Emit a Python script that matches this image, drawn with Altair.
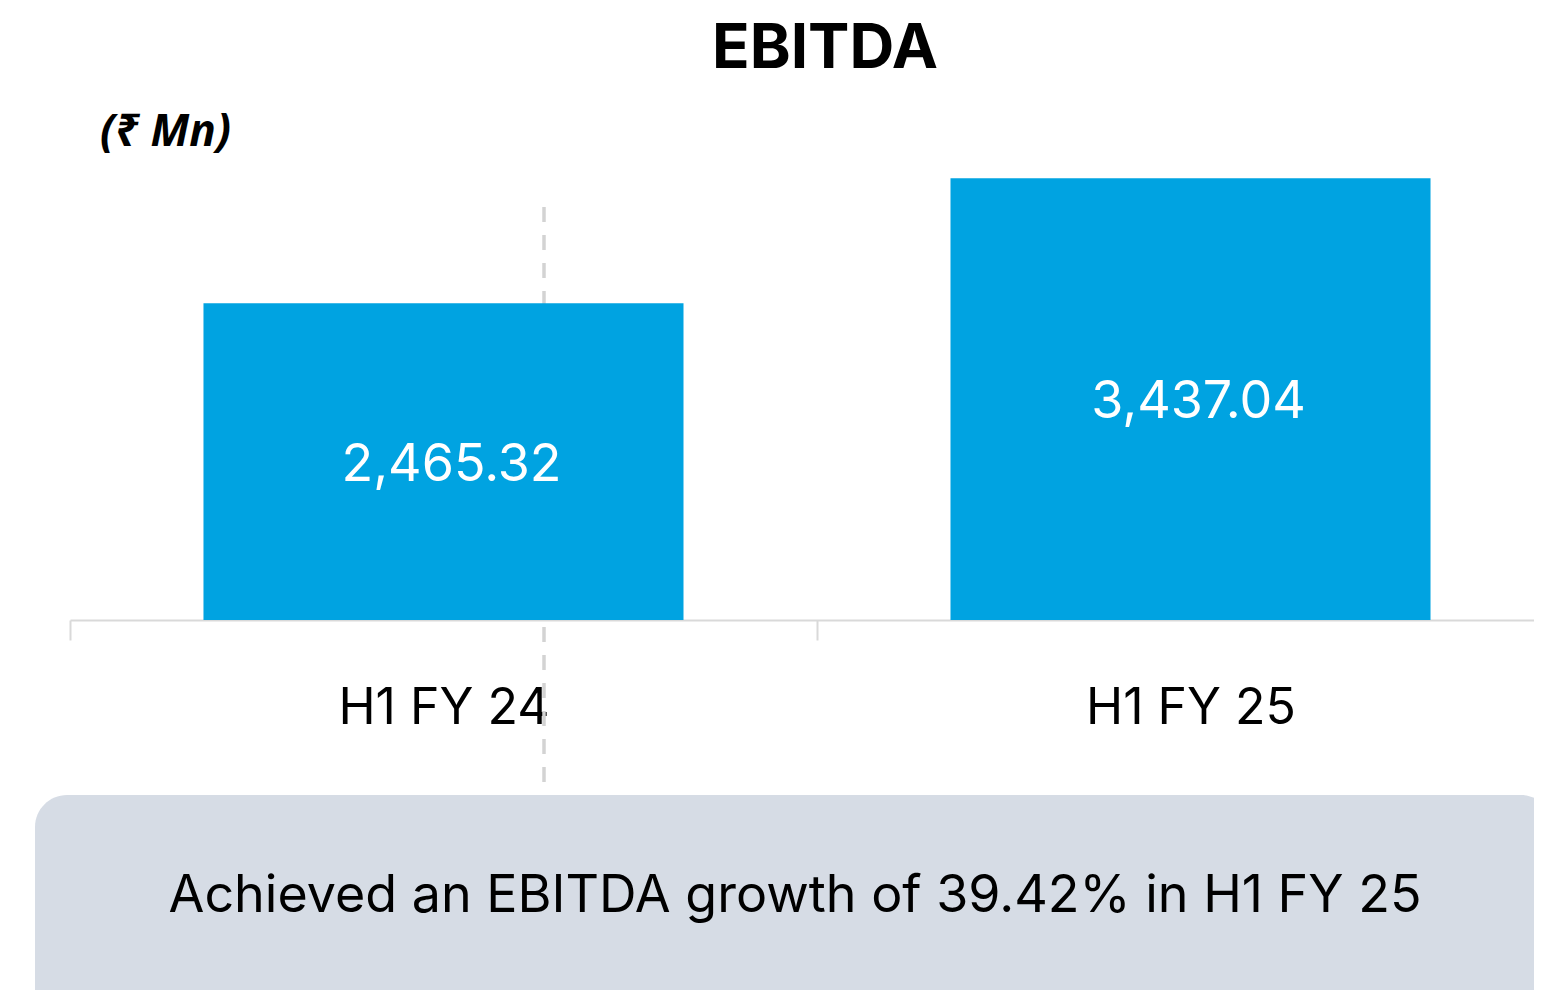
import altair as alt
import pandas as pd

periods = ["H1 FY 24", "H1 FY 25"]
ebitda = [2465.32, 3437.04]
title_text = "EBITDA"
unit_text = "(₹ Mn)"
note_text = "Achieved an EBITDA growth of 39.42% in H1 FY 25"

df = pd.DataFrame({"period": periods, "ebitda": ebitda})

FONT = "Inter"
BAR = "#00A3E1"

x_enc = alt.X(
    "period:N",
    sort=periods,
    title=None,
    scale=alt.Scale(paddingInner=0.3574, paddingOuter=0.1586, align=0.5633),
    axis=alt.Axis(
        labelAngle=0,
        labelFontSize=50,
        labelFont=FONT,
        labelColor="#000000",
        labelBaseline="alphabetic",
        labelPadding=83,
        labelLimit=0,
        labelOffset=373.5,
        domainColor="#d9d9d9",
        domainWidth=2,
        tickColor="#d9d9d9",
        tickWidth=2,
        tickSize=20,
        tickOffset=-373.5,
    ),
)
y_scale = alt.Scale(domain=[0, 4000])

base = alt.Chart(df)

dash = base.mark_rule(color="#d3d3d3", strokeWidth=3, strokeDash=[15, 13]).encode(
    x=alt.value(474), y=alt.value(101), y2=alt.value(679)
)

bars = base.mark_bar(color=BAR).encode(
    x=x_enc,
    y=alt.Y("ebitda:Q", scale=y_scale, axis=None),
)

labels = base.transform_calculate(mid="datum.ebitda / 2").mark_text(
    color="white", fontSize=52, font=FONT, baseline="middle", dx=8, dy=3
).encode(
    x=alt.X("period:N", sort=periods),
    y=alt.Y("mid:Q", scale=y_scale),
    text=alt.Text("ebitda:Q", format=",.2f"),
)

one = "datum.period == 'H1 FY 24'"

title = base.transform_filter(one).mark_text(
    fontSize=62, fontWeight="bold", font=FONT, color="#000000",
    align="center", baseline="alphabetic", text=title_text
).encode(x=alt.value(755), y=alt.value(-38))

unit = base.transform_filter(one).mark_text(
    fontSize=44, fontWeight="bold", fontStyle="italic", font="Noto Sans",
    color="#000000", align="left", baseline="alphabetic", text=unit_text
).encode(x=alt.value(30), y=alt.value(40))

box = base.transform_filter(one).mark_rect(
    color="#d6dce5", cornerRadius=32
).encode(x=alt.value(-35), x2=alt.value(1483), y=alt.value(689), y2=alt.value(950))

note = base.transform_filter(one).mark_text(
    fontSize=52, font=FONT, color="#000000", align="center",
    baseline="alphabetic", text=note_text
).encode(x=alt.value(725), y=alt.value(806))

chart = alt.layer(dash, bars, labels, title, unit, box, note).properties(
    width=1464,
    height=514,
    autosize=alt.AutoSizeParams(type="none"),
    padding={"left": 62, "top": 98, "right": 0, "bottom": 370},
).configure_view(stroke=None)

chart.save("out.html", embed_options={"renderer": "svg", "actions": False})
